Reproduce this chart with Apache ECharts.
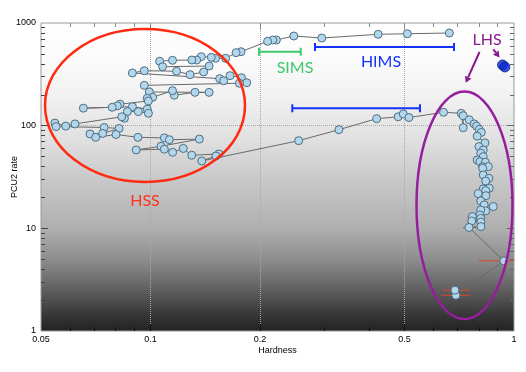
<!DOCTYPE html>
<html>
<head>
<meta charset="utf-8">
<script src="https://cdn.jsdelivr.net/npm/echarts@6/dist/echarts.min.js"></script>
<style>
html, body { margin: 0; padding: 0; background: #fff; }
#chart-container { width: 526px; height: 372px; }
</style>
</head>
<body>
<div id="chart-container"></div>
<script>
// outburst track, in time order (top branch, HSS, lower branch, decay)
var hardness = [0.664, 0.509, 0.423, 0.296, 0.248, 0.222, 0.217, 0.210,
    0.1775, 0.172, 0.161, 0.151, 0.147, 0.138, 0.134, 0.130, 0.115, 0.106,
    0.108, 0.145, 0.140, 0.1285, 0.118, 0.0962, 0.0892, 0.155, 0.159, 0.1655,
    0.178, 0.184, 0.1756, 0.0962, 0.0993, 0.145, 0.1326, 0.1163, 0.115, 0.1014,
    0.098, 0.0987, 0.0825, 0.0811, 0.0785, 0.0654, 0.0892, 0.098, 0.0987, 0.0926,
    0.0864, 0.0848, 0.0834, 0.062, 0.0585, 0.0546, 0.055, 0.0746, 0.082, 0.0739,
    0.0682, 0.0707, 0.0804, 0.0924, 0.1092, 0.1127, 0.1363, 0.1069, 0.0914, 0.1092,
    0.1151, 0.1231, 0.1299, 0.1543, 0.1514, 0.1384,
    0.2557, 0.330, 0.419, 0.480, 0.496, 0.514, 0.640, 0.716, 0.725, 0.725,
    0.753, 0.777, 0.789, 0.802, 0.813, 0.792, 0.832, 0.801, 0.823, 0.810,
    0.823, 0.792, 0.806, 0.834, 0.820, 0.850, 0.820, 0.823, 0.853, 0.836,
    0.855, 0.823, 0.836, 0.797, 0.837, 0.810, 0.828, 0.877, 0.836, 0.810,
    0.806, 0.768, 0.810, 0.765, 0.811, 0.811, 0.752, 0.938, 0.692, 0.688];
var rate = [799, 786, 776, 714, 747, 683, 683, 663,
    525, 514, 453, 453, 463, 470, 436, 436, 433, 424,
    375, 381, 333, 314, 339, 343, 326, 287, 274, 307,
    293, 262, 259, 247, 213, 211, 211, 198, 219, 189,
    185, 174, 162, 156, 151, 148, 153, 145, 132, 137,
    137, 118, 122, 104, 99, 106, 98, 96, 94, 84,
    83, 77, 82, 77, 76, 73, 74, 63, 58, 59,
    55, 60, 51.5, 53, 50.7, 45.3,
    71.4, 91.4, 117, 122, 130, 120, 135, 132, 95.6, 125,
    114, 104, 99, 92, 86, 79, 68, 62.5, 58, 53.9,
    49.9, 46.3, 44.6, 44.0, 39.9, 39.9, 38.5, 33.1, 30.7, 28.9,
    24.6, 24.2, 23.3, 21.8, 20.8, 18.5, 16.9, 16.3, 14.8, 15.1,
    13.5, 13.0, 12.5, 11.8, 11.5, 10.4, 10.2, 4.82, 2.23, 2.50];

// first observations (dark blue)
var startHardness = [0.93, 0.944];
var startRate = [390, 373];

// hardness error bars on the faint points
var errRate = [10.2, 4.82, 2.50, 2.23, 13.0, 11.8, 15.1];
var errLow = [0.724, 0.80, 0.638, 0.630, 0.745, 0.742, 0.79];
var errHigh = [0.786, 1.05, 0.757, 0.757, 0.79, 0.79, 0.83];

// axes
var xLabels = [0.05, 0.1, 0.2, 0.5, 1];
var xMajor = [0.1, 0.2, 0.5];
var xMinor = [0.06, 0.07, 0.08, 0.09, 0.3, 0.4, 0.6, 0.7, 0.8, 0.9];
var yLabels = [1, 10, 100, 1000];
var yMajor = [10, 100];
var yMinor = [2, 3, 4, 5, 6, 7, 8, 9, 20, 30, 40, 50, 60, 70, 80, 90,
    200, 300, 400, 500, 600, 700, 800, 900];

var dom = document.getElementById('chart-container');
var myChart = echarts.init(dom, null, { renderer: 'canvas' });

var labelFont = 'Liberation Sans';
var annoFont = 'Lato';

function logAxis(min, max, position, ticks, len, color, extra) {
    var axis = {
        type: 'log',
        logBase: 10,
        min: min,
        max: max,
        position: position,
        axisLine: { show: false },
        axisTick: {
            show: true,
            inside: true,
            length: len,
            customValues: ticks,
            lineStyle: { color: color, width: 1 }
        },
        axisLabel: { show: false },
        splitLine: { show: false }
    };
    return Object.assign(axis, extra || {});
}

var gridLine = { show: true, lineStyle: { type: 'dotted', color: '#a8a8a8', width: 1 } };

function arrow(x1, y1, x2, y2, color) {
    var dx = x2 - x1, dy = y2 - y1;
    var len = Math.sqrt(dx * dx + dy * dy);
    var ux = dx / len, uy = dy / len;
    var bx = x2 - ux * 6, by = y2 - uy * 6;
    return [
        { type: 'line', z: 100, shape: { x1: x1, y1: y1, x2: bx, y2: by },
          style: { stroke: color, lineWidth: 2 } },
        { type: 'polygon', z: 100,
          shape: { points: [[x2, y2], [bx - uy * 3.5, by + ux * 3.5], [bx + uy * 3.5, by - ux * 3.5]] },
          style: { fill: color } }
    ];
}

function rangeBar(x1, x2, y, color) {
    return [
        { type: 'line', z: 100, shape: { x1: x1, y1: y, x2: x2, y2: y }, style: { stroke: color, lineWidth: 2 } },
        { type: 'line', z: 100, shape: { x1: x1, y1: y - 4, x2: x1, y2: y + 4 }, style: { stroke: color, lineWidth: 2 } },
        { type: 'line', z: 100, shape: { x1: x2, y1: y - 4, x2: x2, y2: y + 4 }, style: { stroke: color, lineWidth: 2 } }
    ];
}

function label(text, x, y, color) {
    return { type: 'text', z: 100, x: x, y: y,
        style: { text: text, fill: color, font: '16px ' + annoFont, textAlign: 'center', textVerticalAlign: 'middle' } };
}

var graphics = [
    { type: 'ellipse', z: 100, shape: { cx: 145, cy: 105.5, rx: 100, ry: 76.5 },
      style: { fill: 'none', stroke: '#ff2a10', lineWidth: 2.5 } },
    { type: 'ellipse', z: 100, shape: { cx: 464.5, cy: 205.3, rx: 48, ry: 113.7 },
      style: { fill: 'none', stroke: '#961e9e', lineWidth: 2.5 } },
    label('HSS', 145, 201, '#ff3218'),
    label('SIMS', 295, 68, '#3ec86a'),
    label('HIMS', 381, 62, '#1432ff'),
    label('LHS', 487, 40, '#8c1a8c')
].concat(
    rangeBar(259, 300.7, 51.7, '#3ec86a'),
    rangeBar(315, 454, 47, '#1432ff'),
    rangeBar(292.3, 420, 108.3, '#1432ff'),
    arrow(479.5, 52, 465.7, 82.7, '#8c1a8c'),
    arrow(493.3, 49.3, 499.5, 57.5, '#8c1a8c')
);

var option = {
    animation: false,
    backgroundColor: '#ffffff',
    grid: {
        left: 41, right: 12, top: 23, bottom: 41,
        containLabel: false,
        outerBoundsMode: 'none',
        show: true,
        borderColor: '#9a9a9a',
        borderWidth: 1,
        backgroundColor: {
            type: 'linear', x: 0, y: 0, x2: 0, y2: 1,
            colorStops: [
                { offset: 0, color: '#ffffff' },
                { offset: 0.12, color: '#fbfbfb' },
                { offset: 0.25, color: '#f0f0f0' },
                { offset: 0.38, color: '#e0e0e0' },
                { offset: 0.51, color: '#c8c8c8' },
                { offset: 0.665, color: '#b0b0b0' },
                { offset: 0.77, color: '#8c8c8c' },
                { offset: 0.867, color: '#5e5e5e' },
                { offset: 0.948, color: '#363636' },
                { offset: 1, color: '#222222' }
            ]
        }
    },
    xAxis: [
        logAxis(0.05, 1, 'bottom', xMajor, 7, '#111', {
            name: 'Hardness',
            nameLocation: 'middle',
            nameGap: 15,
            nameMoveOverlap: false,
            nameTextStyle: { fontSize: 9, color: '#000', fontFamily: labelFont },
            axisLabel: { show: true, customValues: xLabels, margin: 4, fontSize: 9, color: '#000',
                fontFamily: labelFont, formatter: function (v) { return String(v); } },
            splitLine: gridLine
        }),
        logAxis(0.05, 1, 'bottom', xMinor, 4, '#111'),
        logAxis(0.05, 1, 'top', xMajor, 7, '#888'),
        logAxis(0.05, 1, 'top', xMinor, 4, '#888')
    ],
    yAxis: [
        logAxis(1, 1000, 'left', yMajor, 7, '#444', {
            name: 'PCU2 rate',
            nameLocation: 'middle',
            nameGap: 22,
            nameMoveOverlap: false,
            nameTextStyle: { fontSize: 9, color: '#000', fontFamily: labelFont },
            axisLabel: { show: true, customValues: yLabels, margin: 5, fontSize: 9, color: '#000',
                fontFamily: labelFont, formatter: function (v) { return String(v); } },
            splitLine: gridLine
        }),
        logAxis(1, 1000, 'left', yMinor, 4, '#444'),
        logAxis(1, 1000, 'right', yMajor, 7, '#666'),
        logAxis(1, 1000, 'right', yMinor, 4, '#666')
    ],
    series: [
        {
            type: 'custom',
            z: 1,
            clip: true,
            encode: { x: [0, 2], y: 1 },
            data: errRate.map(function (r, i) { return [errLow[i], r, errHigh[i]]; }),
            renderItem: function (params, api) {
                var a = api.coord([api.value(0), api.value(1)]);
                var b = api.coord([api.value(2), api.value(1)]);
                return {
                    type: 'line',
                    shape: { x1: a[0], y1: a[1], x2: b[0], y2: b[1] },
                    style: { stroke: '#e0442c', lineWidth: 1 }
                };
            }
        },
        {
            type: 'line',
            z: 2,
            showAllSymbol: true,
            symbol: 'circle',
            symbolSize: 8,
            data: hardness.map(function (h, i) { return [h, rate[i]]; }),
            lineStyle: { color: '#6a6a6a', width: 1 },
            itemStyle: { color: '#b2d6ec', borderColor: '#4e6e82', borderWidth: 1 }
        },
        {
            type: 'scatter',
            z: 3,
            symbolSize: 10,
            data: startHardness.map(function (h, i) { return [h, startRate[i]]; }),
            itemStyle: { color: '#0a2ad6', borderColor: '#061a80', borderWidth: 1 }
        }
    ],
    graphic: graphics
};

myChart.setOption(option);
</script>
</body>
</html>
